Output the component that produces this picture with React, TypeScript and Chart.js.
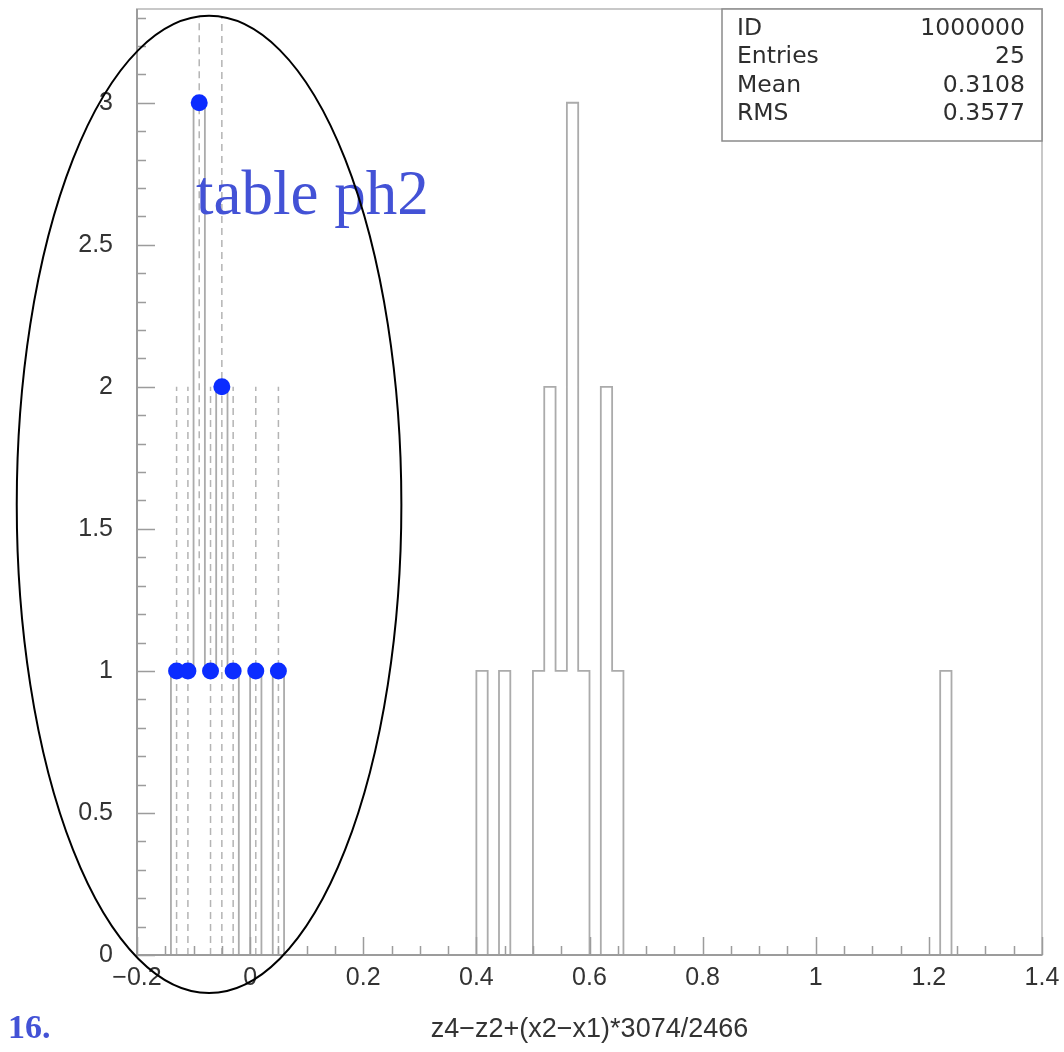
import React, { useEffect, useRef } from 'react';
import { Chart, registerables } from 'chart.js';

Chart.register(...registerables);

// ---- data ----
const binWidth = 0.02;
const binLowEdges = [-0.14, -0.12, -0.1, -0.08, -0.06, -0.04, 0.0, 0.04, 0.4, 0.44, 0.5, 0.52, 0.54, 0.56, 0.58, 0.62, 0.64, 1.22];
const binCounts = [1, 1, 3, 1, 2, 1, 1, 1, 1, 1, 1, 2, 1, 3, 1, 2, 1, 1];

const pointX = [-0.13, -0.11, -0.09, -0.07, -0.05, -0.03, 0.01, 0.05];
const pointY = [1, 1, 3, 1, 2, 1, 1, 1];
const dashLow = [0, 0, 1.27, 0, 0, 0, 0, 0];
const dashHigh = [2, 2, 3.3, 2, 3.3, 2, 2, 2];

const xTickValues = [-0.2, 0, 0.2, 0.4, 0.6, 0.8, 1, 1.2, 1.4];
const xTickLabels = ['\u22120.2', '0', '0.2', '0.4', '0.6', '0.8', '1', '1.2', '1.4'];
const yTickValues = [0, 0.5, 1, 1.5, 2, 2.5, 3];
const yTickLabels = ['0', '0.5', '1', '1.5', '2', '2.5', '3'];

const statLabels = ['ID', 'Entries', 'Mean', 'RMS'];
const statValues = ['1000000', '25', '0.3108', '0.3577'];

const xTitle = 'z4\u2212z2+(x2\u2212x1)*3074/2466';
const annotationText = 'table ph2';
const slideNumber = '16.';

// annotation ellipse in data coordinates
const ellipseCenter = { x: -0.0726, y: 1.586 };
const ellipseRadius = { x: 0.34, y: 1.72 };
const annotationAnchor = { x: -0.0956, y: 2.608 };

const X_MIN = -0.2;
const X_MAX = 1.4;
const Y_MIN = 0;
const Y_MAX = 3.33;

function buildOutline() {
  const pts: { x: number; y: number }[] = [];
  for (let i = 0; i < binLowEdges.length; i++) {
    const lo = binLowEdges[i];
    const hi = lo + binWidth;
    const c = binCounts[i];
    const prevAdj = i > 0 && Math.abs(binLowEdges[i - 1] + binWidth - lo) < 1e-9;
    if (!prevAdj) pts.push({ x: lo, y: 0 });
    pts.push({ x: lo, y: c }, { x: hi, y: c });
    const nextAdj = i < binLowEdges.length - 1 && Math.abs(hi - binLowEdges[i + 1]) < 1e-9;
    if (!nextAdj) pts.push({ x: hi, y: 0 });
  }
  return pts;
}

function buildDashes() {
  const pts: { x: number; y: number | null }[] = [];
  for (let i = 0; i < pointX.length; i++) {
    pts.push({ x: pointX[i], y: dashLow[i] }, { x: pointX[i], y: dashHigh[i] }, { x: pointX[i], y: null });
  }
  return pts;
}

const decorPlugin = {
  id: 'decor',
  afterDatasetsDraw(chart: any) {
    const { ctx, chartArea: a, scales } = chart;
    const x = scales.x;
    const y = scales.y;
    ctx.save();
    // frame
    ctx.strokeStyle = '#c8c8c8';
    ctx.lineWidth = 2;
    ctx.strokeRect(a.left, a.top, a.right - a.left, a.bottom - a.top);
    // axes
    ctx.strokeStyle = '#9c9c9c';
    ctx.beginPath();
    ctx.moveTo(a.left, a.top);
    ctx.lineTo(a.left, a.bottom);
    ctx.lineTo(a.right, a.bottom);
    ctx.stroke();
    // ticks
    ctx.lineWidth = 1.5;
    ctx.beginPath();
    for (let k = 0; k <= 32; k++) {
      const v = X_MIN + k * 0.05;
      const px = Math.round(x.getPixelForValue(v)) + 0.5;
      const len = k % 4 === 0 ? 18 : 9;
      ctx.moveTo(px, a.bottom);
      ctx.lineTo(px, a.bottom - len);
    }
    for (let k = 0; k <= 33; k++) {
      const v = k * 0.1;
      const py = Math.round(y.getPixelForValue(v)) + 0.5;
      const len = k % 5 === 0 ? 18 : 9;
      ctx.moveTo(a.left, py);
      ctx.lineTo(a.left + len, py);
    }
    ctx.stroke();
    ctx.restore();
  },
  afterDraw(chart: any) {
    const { ctx, chartArea: a, scales } = chart;
    const x = scales.x;
    const y = scales.y;
    ctx.save();

    // stats box
    const bw = 320;
    const bh = 132;
    const bx = a.right - bw;
    const by = a.top;
    ctx.fillStyle = '#ffffff';
    ctx.fillRect(bx, by, bw, bh);
    ctx.strokeStyle = '#8a8a8a';
    ctx.lineWidth = 1.5;
    ctx.strokeRect(bx, by, bw, bh);
    ctx.font = '23.5px "DejaVu Sans"';
    ctx.fillStyle = '#2e2e2e';
    ctx.textBaseline = 'alphabetic';
    for (let i = 0; i < statLabels.length; i++) {
      const base = by + 26 + i * 28.3;
      ctx.textAlign = 'left';
      ctx.fillText(statLabels[i], bx + 15, base);
      ctx.textAlign = 'right';
      ctx.fillText(statValues[i], a.right - 17, base);
    }

    // annotation text
    ctx.fillStyle = '#4352d6';
    ctx.font = '63px "Liberation Serif"';
    ctx.textAlign = 'left';
    ctx.fillText(annotationText, x.getPixelForValue(annotationAnchor.x), y.getPixelForValue(annotationAnchor.y));

    // slide number
    ctx.font = 'bold 34px "Liberation Serif"';
    ctx.fillText(slideNumber, 8, 1038);

    // ellipse
    const cx = x.getPixelForValue(ellipseCenter.x);
    const cy = y.getPixelForValue(ellipseCenter.y);
    const rx = x.getPixelForValue(ellipseCenter.x + ellipseRadius.x) - cx;
    const ry = cy - y.getPixelForValue(ellipseCenter.y + ellipseRadius.y);
    ctx.strokeStyle = '#000000';
    ctx.lineWidth = 2;
    ctx.beginPath();
    ctx.ellipse(cx, cy, rx, ry, 0, 0, Math.PI * 2);
    ctx.stroke();
    ctx.restore();
  },
};

export default function App() {
  const ref = useRef<HTMLCanvasElement | null>(null);

  useEffect(() => {
    if (!ref.current) return;
    const chart = new Chart(ref.current, {
      type: 'scatter',
      data: {
        datasets: [
          {
            label: 'dashes',
            data: buildDashes() as any,
            showLine: true,
            borderColor: '#b4b4b4',
            borderWidth: 1.5,
            borderDash: [7, 5],
            pointRadius: 0,
            spanGaps: false,
            order: 3,
          },
          {
            label: 'histogram',
            data: buildOutline(),
            showLine: true,
            borderColor: '#ababab',
            borderWidth: 1.8,
            pointRadius: 0,
            order: 2,
          },
          {
            label: 'points',
            data: pointX.map((v, i) => ({ x: v, y: pointY[i] })),
            showLine: false,
            pointRadius: 8.5,
            pointBackgroundColor: '#0b2cff',
            pointBorderWidth: 0,
            order: 1,
          },
        ],
      },
      options: {
        responsive: false,
        devicePixelRatio: 1,
        animation: false,
        events: [],
        layout: { padding: { left: 0, top: 9, right: 22, bottom: 0 } },
        plugins: { legend: { display: false }, tooltip: { enabled: false } },
        scales: {
          x: {
            type: 'linear',
            min: X_MIN,
            max: X_MAX,
            grid: { display: false, drawTicks: false },
            border: { display: false },
            afterBuildTicks: (s: any) => {
              s.ticks = xTickValues.map((v) => ({ value: v }));
            },
            afterFit: (s: any) => {
              s.height = 97;
              s.paddingLeft = 0;
              s.paddingRight = 0;
            },
            ticks: {
              autoSkip: false,
              maxRotation: 0,
              padding: 8,
              color: '#333333',
              font: { family: '"Liberation Sans"', size: 25 },
              callback: (_v: any, i: number) => xTickLabels[i],
            },
            title: {
              display: true,
              text: xTitle,
              color: '#333333',
              font: { family: '"Liberation Sans"', size: 27 },
              padding: { top: 0, bottom: 6 },
            },
          },
          y: {
            type: 'linear',
            min: Y_MIN,
            max: Y_MAX,
            grid: { display: false, drawTicks: false },
            border: { display: false },
            afterBuildTicks: (s: any) => {
              s.ticks = yTickValues.map((v) => ({ value: v }));
            },
            afterFit: (s: any) => {
              s.width = 137;
              s.paddingTop = 0;
              s.paddingBottom = 0;
            },
            ticks: {
              autoSkip: false,
              padding: 24,
              color: '#333333',
              font: { family: '"Liberation Sans"', size: 25 },
              callback: (_v: any, i: number) => yTickLabels[i],
            },
          },
        },
      },
      plugins: [decorPlugin],
    });
    return () => chart.destroy();
  }, []);

  return (
    <div style={{ position: 'absolute', left: 0, top: 0, width: 1064, height: 1052, background: '#fff' }}>
      <canvas ref={ref} width={1064} height={1052} style={{ display: 'block', width: 1064, height: 1052 }} />
    </div>
  );
}
